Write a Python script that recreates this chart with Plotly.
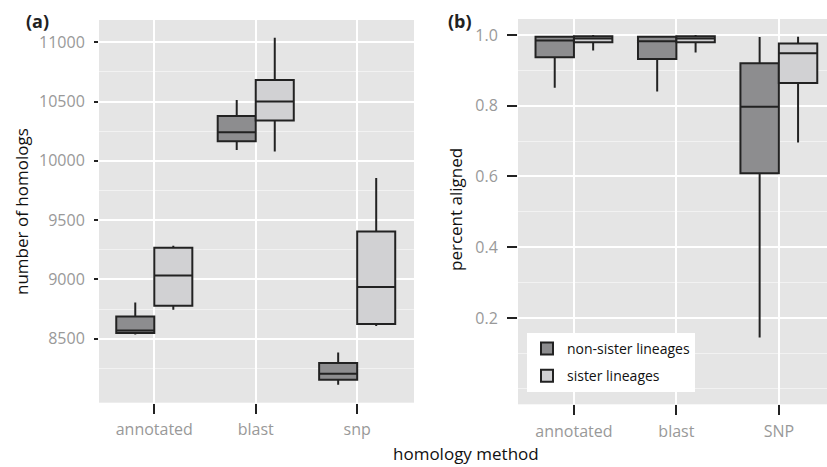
import plotly.graph_objects as go

# ---- data ----
categories_a = ["annotated", "blast", "snp"]
categories_b = ["annotated", "blast", "SNP"]
series_names = ["non-sister lineages", "sister lineages"]

# panel (a): number of homologs
a_non_low = [8535, 10092, 8111]
a_non_q1 = [8547, 10165, 8153]
a_non_med = [8569, 10241, 8204]
a_non_q3 = [8687, 10379, 8294]
a_non_high = [8805, 10514, 8384]

a_sis_low = [8743, 10078, 8608]
a_sis_q1 = [8777, 10340, 8623]
a_sis_med = [9033, 10500, 8935]
a_sis_q3 = [9268, 10682, 9404]
a_sis_high = [9283, 11039, 9856]

# panel (b): percent aligned
b_non_low = [0.851, 0.840, 0.145]
b_non_q1 = [0.937, 0.932, 0.609]
b_non_med = [0.984, 0.982, 0.797]
b_non_q3 = [0.995, 0.995, 0.920]
b_non_high = [0.997, 0.997, 0.994]

b_sis_low = [0.956, 0.950, 0.696]
b_sis_q1 = [0.979, 0.979, 0.864]
b_sis_med = [0.990, 0.990, 0.948]
b_sis_q3 = [0.996, 0.996, 0.976]
b_sis_high = [1.0, 1.0, 0.995]

ticks_a = [8500, 9000, 9500, 10000, 10500, 11000]
minor_a = [8250, 8750, 9250, 9750, 10250, 10750]
ticks_b = [0.2, 0.4, 0.6, 0.8, 1.0]
minor_b = [0.0, 0.1, 0.3, 0.5, 0.7, 0.9]

# ---- style ----
W, H = 827, 467
FONT = "Open Sans"
fill_non = "#8d8d8f"
fill_sis = "#d1d1d3"
outline = "#222222"
panel_bg = "#e5e5e5"
tick_col = "#999999"

fig = go.Figure()

def add_box(cats, low, q1, med, q3, high, name, fill, xa, ya, show, grp):
    fig.add_trace(go.Box(
        x=cats, lowerfence=low, q1=q1, median=med, q3=q3, upperfence=high,
        name=name, fillcolor=fill, line=dict(color=outline, width=2),
        whiskerwidth=0, offsetgroup=grp, legendgroup=grp, showlegend=show,
        xaxis=xa, yaxis=ya, boxpoints=False,
    ))

add_box(categories_a, a_non_low, a_non_q1, a_non_med, a_non_q3, a_non_high,
        series_names[0], fill_non, "x", "y", False, "non")
add_box(categories_a, a_sis_low, a_sis_q1, a_sis_med, a_sis_q3, a_sis_high,
        series_names[1], fill_sis, "x", "y", False, "sis")
add_box(categories_b, b_non_low, b_non_q1, b_non_med, b_non_q3, b_non_high,
        series_names[0], fill_non, "x2", "y2", True, "non")
add_box(categories_b, b_sis_low, b_sis_q1, b_sis_med, b_sis_q3, b_sis_high,
        series_names[1], fill_sis, "x2", "y2", True, "sis")

xcommon = dict(type="category", showgrid=True, gridcolor="white", gridwidth=1.6,
               ticks="outside", ticklen=10, tickwidth=1.8, tickcolor="#222",
               tickfont=dict(family=FONT, size=16, color=tick_col),
               zeroline=False, showline=False, ticklabelstandoff=2,
               automargin=False)
ycommon = dict(showgrid=True, gridcolor="white", gridwidth=1.6,
               ticks="outside", tickwidth=1.8, tickcolor="#222",
               tickfont=dict(family=FONT, size=16, color=tick_col),
               zeroline=False, showline=False, automargin=False)

fig.update_layout(
    width=W, height=H,
    margin=dict(l=0, r=0, t=0, b=0, autoexpand=False),
    paper_bgcolor="white", plot_bgcolor=panel_bg,
    boxmode="group", boxgap=0.25, boxgroupgap=0,
    font=dict(family=FONT, color="#111"),
    xaxis=dict(xcommon, domain=[99 / W, 414 / W], anchor="y",
               categoryorder="array", categoryarray=categories_a,
               range=[-0.545, 2.56]),
    yaxis=dict(ycommon, domain=[(H - 402.7) / H, (H - 20) / H], anchor="x",
               range=[7960, 11188], tickvals=ticks_a, ticklen=4,
               tickformat="d", ticklabelstandoff=6,
               minor=dict(tickvals=minor_a, showgrid=True, gridcolor="#f2f2f2",
                          gridwidth=0.8, ticks="")),
    xaxis2=dict(xcommon, domain=[518 / W, 1.0], anchor="y2",
                categoryorder="array", categoryarray=categories_b,
                range=[-0.546, 2.47]),
    yaxis2=dict(ycommon, domain=[(H - 404.3) / H, (H - 19) / H], anchor="x2",
                range=[-0.044, 1.045], tickvals=ticks_b, ticklen=10,
                tickformat=".1f", ticklabelstandoff=6,
                minor=dict(tickvals=minor_b, showgrid=True, gridcolor="#f2f2f2",
                           gridwidth=0.8, ticks="")),
    legend=dict(x=527 / W, y=(H - 333) / H, xanchor="left", yanchor="top",
                bgcolor="white", borderwidth=0, traceorder="grouped",
                tracegroupgap=6,
                font=dict(family=FONT, size=14, color="#111")),
    annotations=[
        dict(text="<b>(a)</b>", x=37 / W, y=(H - 21) / H, xref="paper", yref="paper",
             showarrow=False, font=dict(family=FONT, size=18, color="#222"),
             xanchor="center", yanchor="middle"),
        dict(text="<b>(b)</b>", x=459.5 / W, y=(H - 21) / H, xref="paper", yref="paper",
             showarrow=False, font=dict(family=FONT, size=18, color="#222"),
             xanchor="center", yanchor="middle"),
        dict(text="number of homologs", x=21 / W, y=(H - 212) / H, xref="paper",
             yref="paper", showarrow=False, textangle=-90,
             font=dict(family=FONT, size=17, color="#111"),
             xanchor="center", yanchor="middle"),
        dict(text="percent aligned", x=456 / W, y=(H - 210) / H, xref="paper",
             yref="paper", showarrow=False, textangle=-90,
             font=dict(family=FONT, size=17, color="#111"),
             xanchor="center", yanchor="middle"),
        dict(text="homology method", x=466 / W, y=(H - 453) / H, xref="paper",
             yref="paper", showarrow=False,
             font=dict(family=FONT, size=17, color="#111"),
             xanchor="center", yanchor="middle"),
    ],
)

fig.write_html("out.html",
               config={"displayModeBar": False},
               post_script="document.body.style.margin='0';document.body.style.padding='0';")
